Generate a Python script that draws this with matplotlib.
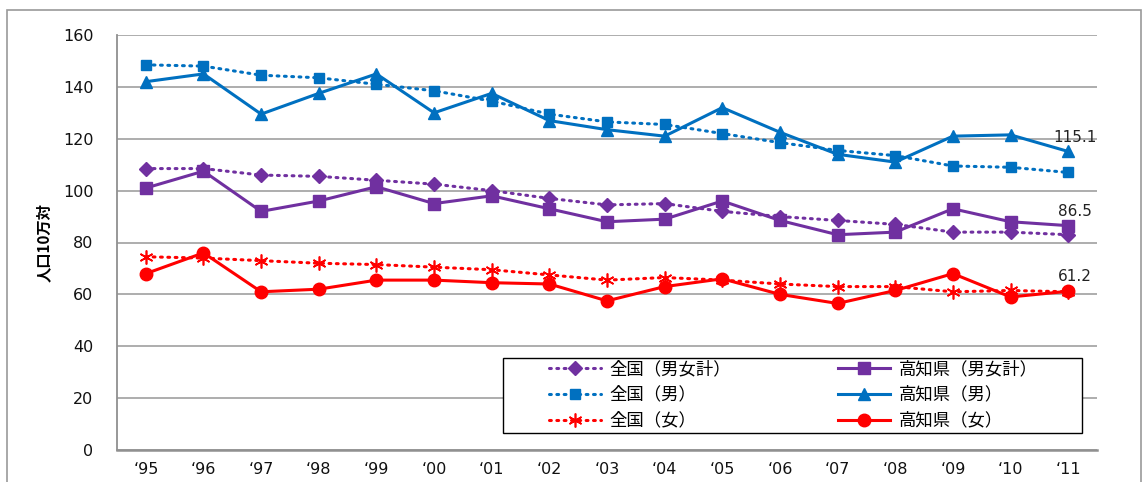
import matplotlib
matplotlib.use('Agg')
import matplotlib.pyplot as plt
from matplotlib.patches import Rectangle

plt.rcParams['font.family'] = ['DejaVu Sans', 'Noto Sans CJK JP']

years = ['‘95', '‘96', '‘97', '‘98', '‘99', '‘00', '‘01', '‘02', '‘03',
         '‘04', '‘05', '‘06', '‘07', '‘08', '‘09', '‘10', '‘11']
national_total = [108.5, 108.5, 106, 105.5, 104, 102.5, 100, 97, 94.5,
                  95, 92, 90, 88.5, 87, 84, 84, 83]
national_male = [148.5, 148, 144.5, 143.5, 141, 138.5, 134.5, 129.5, 126.5,
                 125.5, 122, 118.5, 115.5, 113.5, 109.5, 109, 107]
national_female = [74.5, 74, 73, 72, 71.5, 70.5, 69.5, 67.5, 65.5,
                   66.5, 65.5, 64, 63, 63, 61, 61.5, 61]
kochi_total = [101, 107.5, 92, 96, 101.5, 95, 98, 93, 88,
               89, 96, 88.5, 83, 84, 93, 88, 86.5]
kochi_male = [142, 145, 129.5, 137.5, 145, 130, 137.5, 127, 123.5,
              121, 132, 122.5, 114, 111, 121, 121.5, 115.1]
kochi_female = [68, 76, 61, 62, 65.5, 65.5, 64.5, 64, 57.5,
                63, 66, 60, 56.5, 61.5, 68, 59, 61.2]
national_labels = ['全国（男女計）', '全国（男）', '全国（女）']
kochi_labels = ['高知県（男女計）', '高知県（男）', '高知県（女）']

purple = '#7030A0'
blue = '#0070C0'
red = '#FF0000'

W, H = 1144, 482
fig = plt.figure(figsize=(W / 100, H / 100), dpi=100)
fig.patches.append(Rectangle((7 / W, -0.1), 1134 / W, 1.1 - 10 / H,
                             transform=fig.transFigure, fill=False,
                             edgecolor='#9a9a9a', linewidth=1.2))
ax = fig.add_axes([117 / W, 1 - 450 / H, 980 / W, 415 / H])

x = list(range(len(years)))
dot = dict(linestyle=(0, (0.6, 1.8)), linewidth=2.2, dash_capstyle='round')
solid = dict(linestyle='-', linewidth=2.2)

h1, = ax.plot(x, national_total, color=purple, marker='D', markersize=7, **dot)
h2, = ax.plot(x, national_male, color=blue, marker='s', markersize=7, **dot)
h3, = ax.plot(x, national_female, color=red, marker=(6, 2, 0), markersize=10,
              markeredgewidth=1.2, **dot)
h4, = ax.plot(x, kochi_total, color=purple, marker='s', markersize=9, **solid)
h5, = ax.plot(x, kochi_male, color=blue, marker='^', markersize=9, **solid)
h6, = ax.plot(x, kochi_female, color=red, marker='o', markersize=9, **solid)

for series in (kochi_male, kochi_total, kochi_female):
    ax.annotate(f'{series[-1]:.1f}', (x[-1], series[-1]), xytext=(5, 5),
                textcoords='offset points', ha='center', va='bottom',
                fontsize=11, color='#222222')

ax.set_xlim(-0.5, len(years) - 0.5)
ax.set_ylim(0, 160)
ax.set_yticks(range(0, 161, 20))
ax.set_xticks(x)
ax.set_xticklabels(years)
ax.tick_params(axis='both', length=0, labelsize=11.5, colors='#111111')
ax.tick_params(axis='x', pad=9)
ax.tick_params(axis='y', pad=17)
ax.grid(axis='y', color='#a0a0a0', linewidth=1.2)
ax.set_axisbelow(True)
for side in ('top', 'right'):
    ax.spines[side].set_visible(False)
ax.spines['left'].set_color('#909090')
ax.spines['left'].set_linewidth(1.3)
ax.spines['bottom'].set_color('#909090')
ax.spines['bottom'].set_linewidth(1.8)

ax.set_ylabel('人口10万対', family=['Noto Sans CJK JP'], fontsize=11,
              fontweight='bold', labelpad=8)

# legend frame drawn separately, entries placed as two columns
ax.add_patch(Rectangle(((503 - 117) / 980, (450 - 433) / 415),
                       (1082 - 503) / 980, (433 - 358) / 415,
                       transform=ax.transAxes, fill=True, facecolor='white',
                       edgecolor='black', linewidth=1.0, zorder=4))
leg_kw = dict(loc='upper left', frameon=False, borderpad=0, borderaxespad=0,
              prop={'family': 'Noto Sans CJK JP', 'size': 12.5},
              labelspacing=0.45, handlelength=3.0, handletextpad=0.5)
leg1 = ax.legend([h1, h2, h3], national_labels,
                 bbox_to_anchor=((549 - 117) / 980, (450 - 360) / 415), **leg_kw)
leg1.set_zorder(5)
ax.add_artist(leg1)
leg2 = ax.legend([h4, h5, h6], kochi_labels,
                 bbox_to_anchor=((838 - 117) / 980, (450 - 360) / 415), **leg_kw)
leg2.set_zorder(5)

fig.savefig('out.png', dpi=100)
